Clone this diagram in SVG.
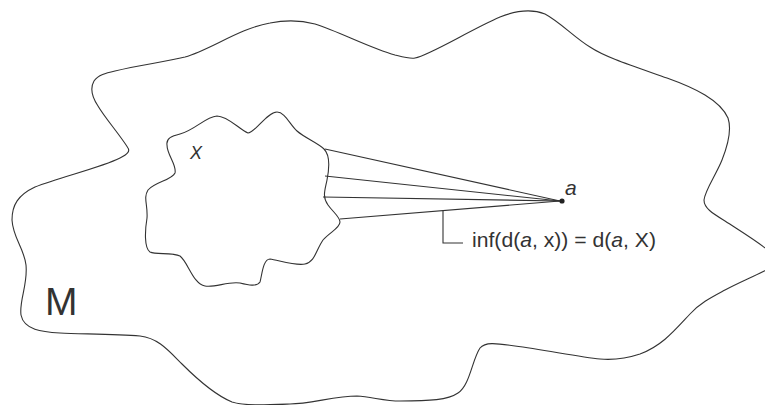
<svg xmlns="http://www.w3.org/2000/svg" width="765" height="405" viewBox="0 0 765 405">
<style>
.shape{fill:none;stroke:#333;stroke-width:1.1;stroke-linejoin:round}
.conn{fill:none;stroke:#333;stroke-width:1.1}
.lbl{font-family:"Liberation Sans",Arial,sans-serif;fill:#333}
.it{font-style:italic}
</style>
<rect width="765" height="405" fill="#fff"/>
<g id="space-M">
<path class="shape" d="M 128,148 C 120,135 105,118 98,106 C 92,97 90,88 94,81 C 98,75 106,73 115,71 C 140,65 165,62 185,57 C 210,50 240,28 270,23 C 285,20 300,20 315,24 C 340,32 370,48 395,55 C 403,57 410,59 415,58 C 430,55 470,30 500,17 C 515,11 530,8 545,14 C 560,22 575,38 590,47 C 605,57 630,65 667,78 C 695,88 720,100 728,118 C 732,130 728,145 722,160 C 716,175 705,190 704,200 C 704,208 712,213 725,221 C 745,234 760,243 770,252 L 770,268 C 755,276 740,282 725,290 C 712,297 700,303 690,314 C 675,330 662,346 640,354 C 625,359 612,360 600,359 C 580,357 545,350 515,346 C 495,343 485,342 480,348 C 472,360 470,385 458,393 C 448,400 430,401 400,401 C 385,401 372,397 357,396 C 335,396 310,404 290,404 C 265,405 245,406 232,402 C 215,395 198,380 182,364 C 168,350 158,338 140,336 C 115,334 80,334 60,333 C 42,332 24,330 21,315 C 19,300 28,285 26,265 C 24,248 13,238 12,220 C 12,205 18,195 35,187 C 60,177 100,168 120,158 C 128,154 130,151 128,148 Z"/>
<text class="lbl" x="45" y="315" font-size="39">M</text>
</g>
<g id="set-X">
<path class="shape" d="M 167,145 C 166,138 172,136 180,134 C 195,130 205,117 217,116 C 228,116 240,130 248,133 C 255,133 267,112 277,112 C 285,112 290,125 297,131 C 305,138 318,143 324,149 C 331,156 329,170 327,180 C 325,190 322,197 328,205 C 333,212 340,217 340,222 C 340,228 330,232 323,240 C 316,250 315,262 305,264 C 295,266 278,260 270,259 C 263,259 262,275 260,282 C 257,287 248,285 240,283 C 228,281 215,288 205,286 C 193,284 188,262 180,256 C 172,252 156,255 150,252 C 144,248 145,230 147,218 C 148,205 143,198 148,190 C 155,182 172,180 175,173 C 177,165 167,155 167,145 Z"/>
<text class="lbl it" x="190" y="159" font-size="18" fill="#444">X</text>
</g>
<g id="point-a">
<circle cx="562" cy="201" r="2.6" fill="#222"/>
<text class="lbl it" x="565" y="195" font-size="21">a</text>
</g>
<g id="connectors">
<line class="conn" x1="325" y1="149" x2="560" y2="201"/>
<line class="conn" x1="325" y1="176" x2="560" y2="201"/>
<line class="conn" x1="323" y1="197" x2="560" y2="201"/>
<line class="conn" x1="340" y1="219" x2="560" y2="201"/>
<polyline class="conn" points="443,210.5 443,243 463,243"/>
</g>
<g id="label-inf">
<text class="lbl" x="472" y="247" font-size="21" textLength="184" lengthAdjust="spacingAndGlyphs">inf(d(<tspan class="it">a</tspan>, x)) = d(<tspan class="it">a</tspan>, X)</text>
</g>
</svg>
